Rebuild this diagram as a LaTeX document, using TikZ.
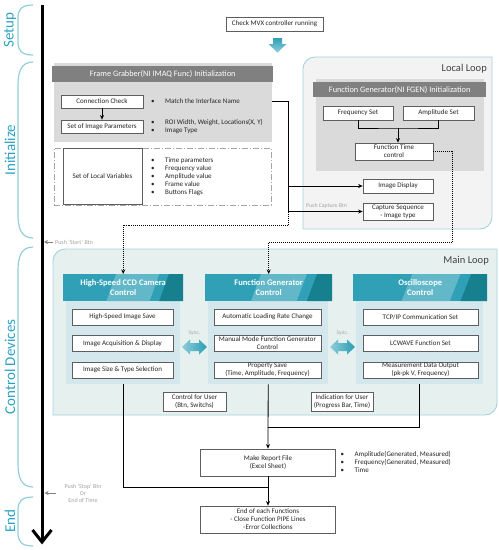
\documentclass[tikz,border=0pt]{standalone}
\usepackage{fontspec}
\setmainfont{Carlito}
\usetikzlibrary{arrows.meta,calc}
\newcommand\bitem{\makebox[14pt][l]{\textbullet}}
\definecolor{lbl}{HTML}{2DA2C4}
\definecolor{bracecol}{HTML}{93CEDD}
\definecolor{hdrgray}{HTML}{808080}
\definecolor{pnlgray}{HTML}{DADADA}
\definecolor{bxgray}{HTML}{5E5E5E}
\definecolor{llfill}{HTML}{F3F3F3}
\definecolor{loopline}{HTML}{A3D2DF}
\definecolor{mlfill}{HTML}{E6F0EF}
\definecolor{colpnl}{HTML}{D4E7ED}
\definecolor{tealA}{HTML}{2FA0B6}
\definecolor{tealL}{HTML}{62B8C9}
\definecolor{tealD}{HTML}{17808F}
\definecolor{syncL}{HTML}{8DCDDB}
\definecolor{syncD}{HTML}{2A9DB3}
\definecolor{notegray}{HTML}{A3A3A3}
\definecolor{txt}{HTML}{262626}
\definecolor{titlegray}{HTML}{404040}
\tikzset{
 box/.style={draw=bxgray, line width=0.7pt, fill=white, inner sep=1pt, align=center,
   font=\fontsize{7}{8}\selectfont, text=txt},
 lst/.style={anchor=west, align=left, inner sep=0, font=\fontsize{7}{8}\selectfont, text=txt},
 conn/.style={draw=black, line width=0.8pt},
 arr/.style={conn, -{Stealth[length=4.5pt,width=4pt]}},
 dots/.style={arr, dash pattern=on 1pt off 1pt},
 pusharr/.style={draw=gray, line width=0.8pt, -{Stealth[length=4pt,width=4pt]}},
 note/.style={text=notegray, font=\fontsize{6}{7}\selectfont, inner sep=0, align=center},
 stage/.style={text=lbl, font=\fontsize{15}{15}\selectfont, rotate=90, inner sep=0},
 bracket/.style={draw=bracecol, line width=1.2pt},
 timeline/.style={draw=black, line width=3pt},
 ghdr/.style={fill=hdrgray, text=white, font=\fontsize{8.3}{10}\selectfont, inner sep=0},
 gpnl/.style={fill=pnlgray, inner sep=0},
 dashbox/.style={draw=gray!70, line width=0.6pt, dash pattern=on 6pt off 2pt on 1pt off 2pt, inner sep=0},
 cpnl/.style={fill=colpnl, inner sep=0},
 loopbox/.style={draw=loopline, line width=0.9pt},
 looptitle/.style={text=titlegray, font=\fontsize{10.5}{12}\selectfont, anchor=east, inner sep=0},
 thdr/.style={fill=tealA, text=white, font=\bfseries\fontsize{8.5}{10}\selectfont, align=center, inner sep=0,
   path picture={
     \coordinate (pa) at (path picture bounding box.south west);
     \coordinate (pb) at (path picture bounding box.north east);
     \fill[tealL] ($(pa)!0.36!(pa-|pb)$) -- ($(pa|-pb)!0.44!(pb)$) -- ($(pa|-pb)!0.80!(pb)$) -- ($(pa)!0.72!(pa-|pb)$) -- cycle;
     \fill[tealD] ($(pa)!0.80!(pa-|pb)$) -- ($(pa|-pb)!0.88!(pb)$) -- (pb) -- (pa-|pb) -- cycle;
   }},
 syncarrow/.pic={\shade[left color=syncL, right color=syncD] (-12.5,0) -- (-4.5,-7.5) -- (-4.5,-4) -- (4.5,-4) -- (4.5,-7.5) -- (12.5,0) -- (4.5,7.5) -- (4.5,4) -- (-4.5,4) -- (-4.5,7.5) -- cycle;},
}
\begin{document}
\begin{tikzpicture}[x=1pt,y=-1pt]
\useasboundingbox[fill=white] (0,0) rectangle (499,550);

% ---------- stages on the left ----------
\coordinate (tTop) at (42,5);
\coordinate (tBot) at (42,542);
\draw[timeline] (tTop) -- (tBot);
\draw[timeline, line join=miter] ($(tBot)+(-9.5,-12)$) -- (tBot) -- ($(tBot)+(9.5,-12)$);

\draw[bracket] (33,5) .. controls (22,5) and (18,9) .. (18,18) -- (18,42) .. controls (18,51) and (22,55) .. (33,55);
\draw[bracket] (33,62) .. controls (21,62) and (18,72) .. (18,86) -- (18,214) .. controls (18,228) and (21,238) .. (33,238);
\draw[bracket] (33,247) .. controls (21,247) and (18,257) .. (18,271) -- (18,463) .. controls (18,477) and (21,487) .. (33,487);
\draw[bracket] (33,497) .. controls (22,497) and (18,501) .. (18,510) -- (18,533) .. controls (18,542) and (22,546) .. (33,546);

\node[stage] (sSetup) at (10,30) {Setup};
\node[stage] (sInit) at (10,150) {Initialize};
\node[stage] (sCtrl) at (10,367) {Control Devices};
\node[stage] (sEnd) at (10,521) {End};

\node[note, anchor=west] (pushstart) at (55,242) {Push `Start' Btn};
\draw[pusharr] ([xshift=-2pt]pushstart.west) -- ([xshift=2pt]pushstart.west -| tTop);
\node[note] (pushstop) at (83,493) {Push `Stop' Btn\\Or\\End of Time};
\coordinate (psa) at (56,493);
\draw[pusharr] (psa) -- ([xshift=2.5pt]psa -| tTop);

% ---------- loop backgrounds ----------
\path[loopbox, fill=llfill] (303,229) -- (303,69) .. controls (303,62.4) and (308.4,57) .. (315,57) -- (492,57) -- (492,217) .. controls (492,223.6) and (486.6,229) .. (480,229) -- cycle;
\path[loopbox, fill=mlfill] (53,415) -- (53,261) .. controls (53,254.4) and (58.4,249) .. (65,249) -- (497,249) -- (497,403) .. controls (497,409.6) and (491.6,415) .. (485,415) -- cycle;
\node[looptitle] (lltitle) at (487,69) {Local Loop};
\node[looptitle] (mltitle) at (489,261) {Main Loop};

% ---------- setup ----------
\node[box, minimum width=97, minimum height=14] (check) at (274.5,24) {Check MVX controller running};
\shade[top color=tealA, bottom color=syncL] (273,38) -- (282,38) -- (282,44) -- (286.5,44) -- (277.5,52.5) -- (268.5,44) -- (273,44) -- cycle;

% ---------- frame grabber ----------
\node[gpnl, anchor=north west, minimum width=218, minimum height=79] (fgpnl) at (54,63) {};
\node[ghdr, anchor=north west, minimum width=221, minimum height=16] (fghdr) at (52,66) {Frame Grabber(NI IMAQ Func) Initialization};
\node[box, minimum width=82, minimum height=13] (conn) at (102,101.5) {Connection Check};
\node[box, minimum width=82, minimum height=13] (imgpar) at (102,126.5) {Set of Image Parameters};
\draw[arr] (conn) -- (imgpar);
\node[lst] (lmatch) at (151,101.5) {\bitem Match the Interface Name};
\node[lst] (lroi) at (151,127) {\bitem ROI Width, Weight, Locations(X, Y)\\\bitem Image Type};

\node[dashbox, anchor=north west, minimum width=217, minimum height=57] (lvzone) at (54,148) {};
\node[box, minimum width=79, minimum height=56] (localvars) at (102.5,176) {Set of Local Variables};
\node[lst] (lvars) at (151,177) {\bitem Time parameters\\\bitem Frequency value\\\bitem Amplitude value\\\bitem Frame value\\\bitem Buttons Flags};

% ---------- function generator init ----------
\node[gpnl, anchor=north west, minimum width=168, minimum height=92] (fgenpnl) at (316,79) {};
\node[ghdr, anchor=north west, minimum width=173, minimum height=15] (fgenhdr) at (313,82) {Function Generator(NI FGEN) Initialization};
\node[box, minimum width=70, minimum height=14] (freq) at (358,113) {Frequency Set};
\node[box, minimum width=71, minimum height=14] (ampl) at (438.5,113) {Amplitude Set};
\node[box, minimum width=78, minimum height=17] (ftc) at (394,151.5) {Function Time\\control};
\coordinate (fj) at (398,128);
\draw[conn] (freq.south) |- (fj) -| (ampl.south);
\draw[arr] (fj) -- (fj |- ftc.north);

\node[box, minimum width=70, minimum height=14] (imgdisp) at (398,186) {Image Display};
\node[box, minimum width=70, minimum height=17] (capseq) at (398,211.5) {Capture Sequence\\- Image type};
\node[note, anchor=west, font=\fontsize{5.8}{7}\selectfont] (pushcap) at (306,206) {Push Capture Btn};

\coordinate (fk) at (288,211.5);
\draw[arr] (fgpnl.east |- conn.center) -| (fk) -- (capseq.west);
\draw[arr] (fk |- imgdisp.west) -- (imgdisp.west);

% ---------- main loop columns ----------
\node[cpnl, anchor=north west, minimum width=114, minimum height=83] (ccdpnl) at (66,301) {};
\node[thdr, anchor=north west, minimum width=120, minimum height=27] (ccdhdr) at (63,274) {High-Speed CCD Camera\\Control};
\node[cpnl, anchor=north west, minimum width=120, minimum height=83] (fgcpnl) at (208,301) {};
\node[thdr, anchor=north west, minimum width=127, minimum height=27] (fgchdr) at (205,274) {Function Generator\\Control};
\node[cpnl, anchor=north west, minimum width=127, minimum height=83] (oscpnl) at (356,301) {};
\node[thdr, anchor=north west, minimum width=134, minimum height=27] (oschdr) at (353,274) {Oscilloscope\\Control};

\node[box, minimum width=101, minimum height=16] (c1) at (122.5,317) {High-Speed Image Save};
\node[box, minimum width=101, minimum height=16] (c2) at (122.5,343.5) {Image Acquisition \& Display};
\node[box, minimum width=101, minimum height=16] (c3) at (122.5,370) {Image Size \& Type Selection};
\node[box, minimum width=107, minimum height=16] (g1) at (267.5,317) {Automatic Loading Rate Change};
\node[box, minimum width=107, minimum height=16] (g2) at (267.5,343.5) {Manual Mode Function Generator\\Control};
\node[box, minimum width=107, minimum height=16] (g3) at (267.5,370) {Property Save\\(Time, Amplitude, Frequency)};
\node[box, minimum width=115, minimum height=16] (o1) at (420.5,317) {TCP/IP Communication Set};
\node[box, minimum width=115, minimum height=16] (o2) at (420.5,343.5) {LCWAVE Function Set};
\node[box, minimum width=115, minimum height=16] (o3) at (420.5,370) {Measurement Data Output\\(pk-pk V, Frequency)};

\pic at (194.5,347) {syncarrow};
\pic at (342.5,347) {syncarrow};
\node[note, font=\fontsize{5.5}{6}\selectfont] (sync1) at (194.5,333.5) {Sync.};
\node[note, font=\fontsize{5.5}{6}\selectfont] (sync2) at (342.5,333.5) {Sync.};

\node[box, minimum width=63, minimum height=19] (ctrluser) at (194.5,401.5) {Control for User\\(Btn, Switchs)};
\node[box, minimum width=62, minimum height=19] (induser) at (342,401.5) {Indication for User\\(Progress Bar, Time)};

% ---------- dotted triggers ----------
\draw[dots] (fk) -- ++(0,13.5) -| (ccdhdr.north);
\draw[dots] (ftc.east) -- ++(19,0) -- ++(0,90.5) -| (fgchdr.north);

% ---------- end ----------
\node[box, minimum width=135, minimum height=27] (report) at (268,462.5) {Make Report File\\(Excel Sheet)};
\node[lst] (lrep) at (340.5,462) {\bitem Amplitude(Generated, Measured)\\\bitem Frequency(Generated, Measured)\\\bitem Time};
\node[box, minimum width=135, minimum height=27] (endbox) at (268,519.5) {End of each Functions\\- Close Function PIPE Lines\\-Error Collections};

\coordinate (jl) at (268,487);
\coordinate (jr) at (268,427);
\draw[conn] (ccdpnl.south) |- (jl);
\draw[conn] (oscpnl.south) |- (jr);
\draw[arr] (fgcpnl.south) -- (report.north);
\draw[arr] (report.south) -- (endbox.north);
\end{tikzpicture}
\end{document}
